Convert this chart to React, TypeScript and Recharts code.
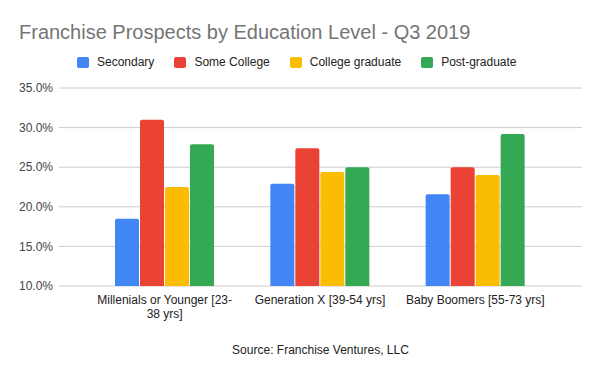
import { BarChart, Bar, XAxis, YAxis, CartesianGrid } from "recharts";

const categories = [
  "Millenials or Younger [23-38 yrs]",
  "Generation X [39-54 yrs]",
  "Baby Boomers [55-73 yrs]",
];
// the first label breaks after the hyphen in the reference
const categoryLines = [
  ["Millenials or Younger [23-", "38 yrs]"],
  ["Generation X [39-54 yrs]"],
  ["Baby Boomers [55-73 yrs]"],
];
const secondary = [18.5, 22.9, 21.6];
const someCollege = [31.0, 27.4, 25.0];
const collegeGrad = [22.5, 24.4, 24.0];
const postGrad = [27.9, 25.0, 29.2];
const yTicks = [10, 15, 20, 25, 30, 35];

const series = [
  { key: "secondary", name: "Secondary", color: "#4285F4" },
  { key: "someCollege", name: "Some College", color: "#EA4335" },
  { key: "collegeGrad", name: "College graduate", color: "#FBBC04" },
  { key: "postGrad", name: "Post-graduate", color: "#34A853" },
];

const data = categories.map((name, i) => ({
  name,
  secondary: secondary[i],
  someCollege: someCollege[i],
  collegeGrad: collegeGrad[i],
  postGrad: postGrad[i],
}));

const FONT = '"Liberation Sans", Arial, sans-serif';

function CategoryTick(props: any) {
  const { x, y, payload } = props;
  const idx = categories.indexOf(payload.value);
  const lines = categoryLines[idx] ?? [payload.value];
  return (
    <text x={x} y={y} textAnchor="middle" fill="#222" fontSize={12} fontFamily={FONT}>
      {lines.map((line, i) => (
        <tspan key={i} x={x} dy={i === 0 ? 10 : 13.5}>
          {line}
        </tspan>
      ))}
    </text>
  );
}

export default function App() {
  return (
    <div
      style={{
        position: "absolute",
        left: 0,
        top: 0,
        width: 600,
        height: 371,
        background: "#fff",
        fontFamily: FONT,
      }}
    >
      <div
        style={{
          position: "absolute",
          left: 19,
          top: 22,
          fontSize: 20,
          lineHeight: "20px",
          color: "#757575",
          whiteSpace: "nowrap",
        }}
      >
        Franchise Prospects by Education Level - Q3 2019
      </div>
      <div
        style={{
          position: "absolute",
          left: 77,
          top: 56,
          display: "flex",
          alignItems: "center",
          gap: 20,
          fontSize: 12,
          lineHeight: "12px",
          color: "#222",
          whiteSpace: "nowrap",
        }}
      >
        {series.map((s) => (
          <div key={s.key} style={{ display: "flex", alignItems: "center" }}>
            <span
              style={{
                display: "inline-block",
                width: 12,
                height: 11,
                borderRadius: 2,
                background: s.color,
                marginRight: 8,
              }}
            />
            {s.name}
          </div>
        ))}
      </div>
      <BarChart
        width={600}
        height={371}
        data={data}
        margin={{ top: 88, right: 18, bottom: 0, left: 0 }}
        barSize={24}
        barGap={1}
        style={{ position: "absolute", left: 0, top: 0 }}
      >
        <CartesianGrid horizontal vertical={false} stroke="#cccccc" />
        <XAxis
          dataKey="name"
          height={85}
          axisLine={false}
          tickLine={false}
          padding={{ left: 28, right: 29 }}
          interval={0}
          tick={<CategoryTick />}
          label={{
            value: "Source: Franchise Ventures, LLC",
            position: "insideBottom",
            offset: 17,
            fill: "#222",
            fontSize: 12,
            fontFamily: FONT,
          }}
        />
        <YAxis
          width={59}
          domain={[10, 35]}
          ticks={yTicks}
          axisLine={false}
          tickLine={false}
          tickMargin={0}
          tick={{ fill: "#444", fontSize: 12, fontFamily: FONT }}
          tickFormatter={(v: number) => `${v.toFixed(1)}%`}
        />
        {series.map((s) => (
          <Bar
            key={s.key}
            dataKey={s.key}
            name={s.name}
            fill={s.color}
            radius={[2, 2, 0, 0]}
            isAnimationActive={false}
          />
        ))}
      </BarChart>
    </div>
  );
}
